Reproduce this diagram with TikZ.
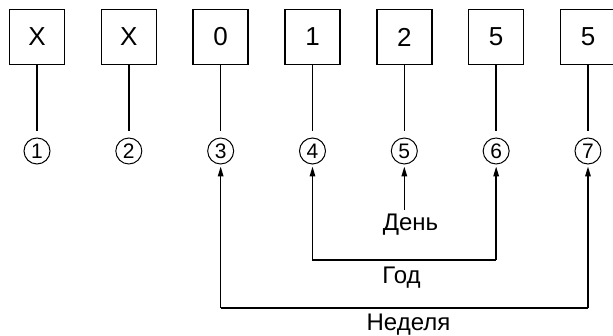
\documentclass[tikz,border=0pt]{standalone}
\usepackage{fontspec}
\setmainfont{Liberation Sans}
\usetikzlibrary{arrows.meta,calc}
\begin{document}
\begin{tikzpicture}[x=1pt,y=-1pt,
  digitbox/.style={draw,line width=1.5pt,minimum width=55pt,minimum height=55pt,inner sep=0pt,font=\fontsize{26}{30}\selectfont},
  numcircle/.style={draw,circle,line width=1pt,minimum size=26pt,inner sep=0pt,font=\fontsize{21}{24}\selectfont},
  stem/.style={line width=1.5pt},
  tiparrow/.style={line width=1.5pt,-{Triangle[length=10pt,width=5.5pt]},shorten >=2pt},
  lbl/.style={anchor=base,inner sep=0pt,font=\fontsize{24}{28}\selectfont}]
\useasboundingbox (0,0) rectangle (613,336);
\foreach \i/\t in {1/X,2/X,3/0,4/1,5/2,6/5,7/5}{
  \pgfmathsetmacro{\xx}{37+91.83*(\i-1)}
  \node[digitbox] (b\i) at (\xx,37) {\t};
  \node[numcircle] (c\i) at (\xx,151) {\i};
  \coordinate (e\i) at (\xx,131);
  \draw[stem] (b\i.south) -- (e\i);
}
\coordinate (wy) at (0,308);
\coordinate (gy) at (0,260);
\coordinate (dd) at (403,210);
\draw[line width=1.5pt] (c3.south |- wy) -- (c7.south |- wy);
\draw[tiparrow] (c3.south |- wy) -- (c3.south);
\draw[tiparrow] (c7.south |- wy) -- (c7.south);
\draw[line width=1.5pt] (c4.south |- gy) -- (c6.south |- gy);
\draw[tiparrow] (c4.south |- gy) -- (c4.south);
\draw[tiparrow] (c6.south |- gy) -- (c6.south);
\draw[tiparrow] (c5.south |- dd) -- (c5.south);
\node[lbl] (den) at (410.5,231) {День};
\node[lbl] (god) at (401.5,284) {Год};
\node[lbl] (ned) at (408.5,331) {Неделя};
\end{tikzpicture}
\end{document}
